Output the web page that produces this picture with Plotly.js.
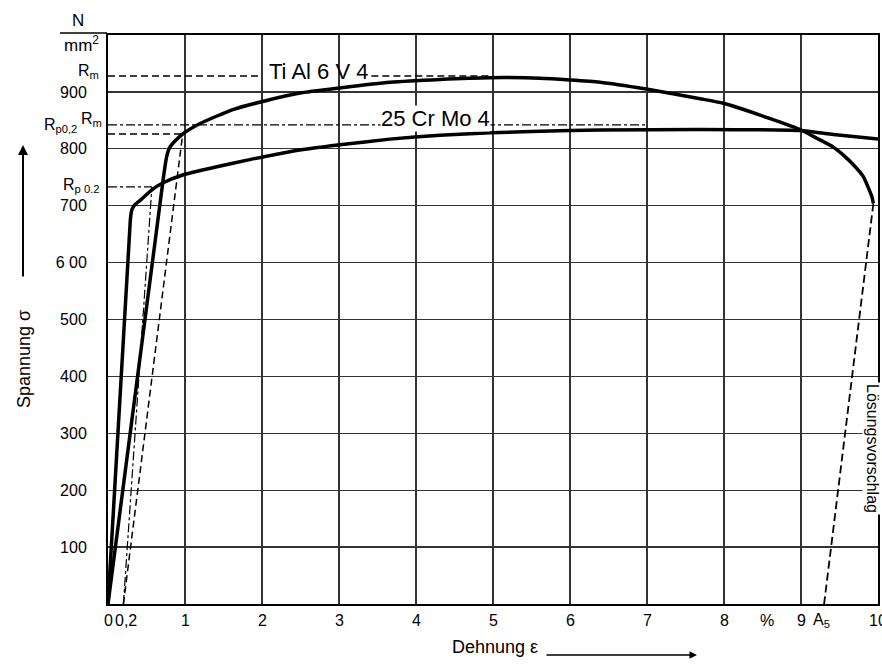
<!DOCTYPE html>
<html>
<head>
<meta charset="utf-8">
<script src="https://cdn.plot.ly/plotly-3.0.1.min.js"></script>
<style>html,body{margin:0;padding:0;background:#fff}#chart{width:882px;height:664px}</style>
</head>
<body>
<div id="chart"></div>
<script>
// ---- data ----
const tiStrain = [0, 0.72, 0.76, 0.80, 0.88, 0.97, 1.19, 1.62, 2.06, 2.49, 3.01, 3.66, 4.31, 4.96, 5.61, 6.39, 6.99, 7.69, 7.99, 8.60, 9.00, 9.20, 9.42, 9.55, 9.68, 9.81, 9.87, 9.92, 9.94];
const tiStress = [0, 750, 785, 802, 815, 826, 844, 869, 885, 898, 907, 917, 922, 925, 924, 917, 905, 888, 880, 853, 833, 819, 803, 789, 772, 751, 733, 716, 704];
const crStrain = [0, 0.29, 0.31, 0.35, 0.44, 0.57, 0.71, 0.97, 1.40, 1.84, 2.36, 3.01, 3.66, 4.31, 4.96, 5.61, 6.39, 7.69, 8.99, 9.42, 10.0];
const crStress = [0, 675, 693, 702, 712, 728, 740, 754, 768, 781, 795, 807, 817, 824, 828, 831, 833, 834, 832, 825, 817];

const tiRm = 928, crRm = 842, tiRp = 826, crRp = 733;
const offsetStrain = 0.2;
const tiRpStrain = 0.97, crRpStrain = 0.57;
const tiRmStrain = 4.96, crRmEnd = 7.0;
const tiBreakStrain = 9.94, tiBreakStress = 704, A5 = 9.3;

const yTickVals = [100, 200, 300, 400, 500, 600, 700, 800, 900];
const yTickText = ['100', '200', '300', '400', '500', '6 00', '700', '800', '900'];
const xTickVals = [0, 0.23, 1, 2, 3, 4, 5, 6, 7, 8, 8.56, 9, 9.27, 10];
const xTickText = ['0', '0,2', '1', '2', '3', '4', '5', '6', '7', '8', '%', '9', 'A<sub>5</sub>', '10'];

// ---- helpers for pixel -> paper ----
const L = 108, T = 35, W = 770, H = 569;
const pxp = p => (p - L) / W;
const pyp = p => (T + H - p) / H;

const FONT = '"Liberation Sans", Arial, Helvetica, sans-serif';
const black = '#000';

// the Ti Rm dashed line is interrupted by the curve label
const tiLabelFrom = 2.0, tiLabelTo = 3.42;

const traces = [
  {x: tiStrain, y: tiStress, mode: 'lines', line: {color: black, width: 3.5, shape: 'spline', smoothing: 0.5}, hoverinfo: 'skip'},
  {x: crStrain, y: crStress, mode: 'lines', line: {color: black, width: 3.5, shape: 'spline', smoothing: 0.5}, hoverinfo: 'skip'},
  // Ti Rm level, Rp0.2 level and offset line (dashed)
  {x: [0, tiLabelFrom, null, tiLabelTo, tiRmStrain], y: [tiRm, tiRm, null, tiRm, tiRm], mode: 'lines', line: {color: black, width: 1.5, dash: '7px,4px'}},
  {x: [0, tiRpStrain], y: [tiRp, tiRp], mode: 'lines', line: {color: black, width: 1.5, dash: '7px,4px'}},
  {x: [offsetStrain, tiRpStrain], y: [0, tiRp], mode: 'lines', line: {color: black, width: 1.5, dash: '7px,4px'}},
  // CrMo Rm level, Rp0.2 level and offset line (dash-dot)
  {x: [0, crRmEnd], y: [crRm, crRm], mode: 'lines', line: {color: black, width: 1.2, dash: 'dashdot'}},
  {x: [0, crRpStrain], y: [crRp, crRp], mode: 'lines', line: {color: black, width: 1.2, dash: 'dashdot'}},
  {x: [offsetStrain, crRpStrain], y: [0, crRp], mode: 'lines', line: {color: black, width: 1.2, dash: 'dashdot'}},
  // unloading line to A5
  {x: [tiBreakStrain, A5], y: [tiBreakStress, 0], mode: 'lines', line: {color: black, width: 1.8, dash: '8px,4px'}}
];

const ann = [];
xTickVals.forEach((v, i) => {
  ann.push({xref: 'x', yref: 'paper', x: v, y: pyp(621), text: xTickText[i], showarrow: false,
    xanchor: 'center', yanchor: 'middle', font: {family: FONT, size: 16, color: black}});
});
const sideLabels = [
  {t: 'R<sub>m</sub>', r: 101, y: 71},
  {t: 'R<sub>m</sub>', r: 104, y: 119},
  {t: 'R<sub>p0,2</sub>', r: 79, y: 126},
  {t: 'R<sub>p 0.2</sub>', r: 101, y: 185}
];
sideLabels.forEach(s => ann.push({xref: 'paper', yref: 'paper', x: pxp(s.r), y: pyp(s.y), text: s.t,
  showarrow: false, xanchor: 'right', yanchor: 'middle', font: {family: FONT, size: 16, color: black}}));

ann.push(
  {xref: 'paper', yref: 'paper', x: pxp(78), y: pyp(21), text: 'N', showarrow: false, xanchor: 'center', yanchor: 'middle', font: {family: FONT, size: 17, color: black}},
  {xref: 'paper', yref: 'paper', x: pxp(81), y: pyp(44), text: 'mm<sup>2</sup>', showarrow: false, xanchor: 'center', yanchor: 'middle', font: {family: FONT, size: 17, color: black}},
  {xref: 'x', yref: 'y', x: 2.06, y: 935, text: 'Ti Al 6 V 4', showarrow: false, xanchor: 'left', yanchor: 'middle', font: {family: FONT, size: 22, color: black}},
  {xref: 'x', yref: 'y', x: 3.53, y: 854, text: '25 Cr Mo 4', showarrow: false, xanchor: 'left', yanchor: 'middle', bgcolor: '#fff', borderpad: 0, font: {family: FONT, size: 22, color: black}},
  {xref: 'paper', yref: 'paper', x: pxp(24), y: pyp(359), text: 'Spannung σ', textangle: -90, showarrow: false, xanchor: 'center', yanchor: 'middle', font: {family: FONT, size: 18, color: black}},
  {xref: 'paper', yref: 'paper', x: pxp(495), y: pyp(647), text: 'Dehnung ε', showarrow: false, xanchor: 'center', yanchor: 'middle', font: {family: FONT, size: 18, color: black}},
  {xref: 'paper', yref: 'paper', x: pxp(873), y: pyp(448), text: 'Lösungsvorschlag', textangle: 90, showarrow: false, xanchor: 'center', yanchor: 'middle', bgcolor: '#fff', borderpad: 1, font: {family: FONT, size: 16, color: black}},
  {xref: 'paper', yref: 'paper', x: pxp(23), y: pyp(145), text: '', showarrow: true, ax: 0, ay: 133, arrowhead: 2, arrowsize: 1, arrowwidth: 2, arrowcolor: black},
  {xref: 'paper', yref: 'paper', x: pxp(697), y: pyp(655), text: '', showarrow: true, ax: -152, ay: 0, arrowhead: 2, arrowsize: 1, arrowwidth: 1.5, arrowcolor: black}
);

const layout = {
  width: 882, height: 664,
  margin: {l: L, r: 882 - L - W, t: T, b: 664 - T - H, pad: 0},
  paper_bgcolor: '#fff', plot_bgcolor: '#fff',
  showlegend: false,
  xaxis: {range: [0, 10], tickvals: [0,1,2,3,4,5,6,7,8,9,10], showticklabels: false, ticks: '',
    showgrid: true, gridcolor: '#333', gridwidth: 1.3, zeroline: false,
    showline: true, linecolor: black, linewidth: 2, mirror: true, fixedrange: true},
  yaxis: {range: [0, 1000], tickvals: yTickVals, ticktext: yTickText, ticks: 'outside', ticklen: 16,
    tickcolor: 'rgba(0,0,0,0)', tickfont: {family: FONT, size: 16, color: black},
    showgrid: true, gridcolor: '#333', gridwidth: 1.3, zeroline: false,
    showline: true, linecolor: black, linewidth: 2, mirror: true, fixedrange: true},
  shapes: [
    {type: 'line', xref: 'paper', yref: 'paper', x0: pxp(60), x1: pxp(107), y0: pyp(33), y1: pyp(33), line: {color: black, width: 1.5}}
  ],
  annotations: ann
};

Plotly.newPlot('chart', traces, layout, {staticPlot: true, displayModeBar: false});
</script>
</body>
</html>
